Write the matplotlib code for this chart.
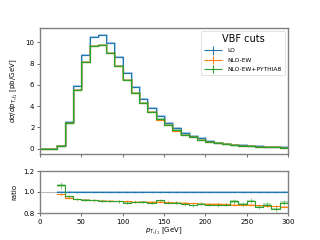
import numpy as np
import matplotlib
matplotlib.use('Agg')
import matplotlib.pyplot as plt
from matplotlib.container import ErrorbarContainer
from matplotlib.legend_handler import HandlerErrorbar

# bin edges [GeV]
BIN_EDGES = list(range(0, 310, 10))

# d sigma / d pT,j1 [pb/GeV]
LO = [0, 0, 0.25, 2.54, 5.90, 8.78, 10.53, 10.69, 9.90, 8.59, 7.14, 5.83, 4.72, 3.85, 3.05,
      2.44, 1.92, 1.45, 1.22, 0.98, 0.76, 0.58, 0.48, 0.40, 0.33, 0.28, 0.23, 0.19, 0.15, 0.12]
NLO_EW = [0, 0, 0.245, 2.40, 5.49, 8.12, 9.69, 9.80, 9.03, 7.80, 6.47, 5.28, 4.27, 3.48, 2.75,
          2.19, 1.71, 1.29, 1.08, 0.87, 0.67, 0.51, 0.42, 0.35, 0.29, 0.24, 0.20, 0.16, 0.13, 0.10]
NLO_PS = [0, 0, 0.266, 2.43, 5.50, 8.14, 9.69, 9.78, 9.04, 7.82, 6.43, 5.26, 4.28, 3.47, 2.82,
          2.19, 1.72, 1.27, 1.07, 0.86, 0.67, 0.53, 0.42, 0.37, 0.28, 0.25, 0.20, 0.17, 0.13, 0.11]

# ratio to LO (bins from 20 GeV on)
RATIO_EW = [0.977, 0.943, 0.930, 0.925, 0.920, 0.917, 0.915, 0.912, 0.910, 0.908, 0.906, 0.905,
            0.905, 0.903, 0.900, 0.897, 0.893, 0.890, 0.888, 0.885, 0.882, 0.880, 0.878, 0.875,
            0.872, 0.868, 0.862, 0.858]
RATIO_PS = [1.063, 0.958, 0.933, 0.927, 0.920, 0.915, 0.913, 0.910, 0.900, 0.903, 0.907, 0.900,
            0.922, 0.898, 0.900, 0.886, 0.873, 0.890, 0.880, 0.873, 0.880, 0.910, 0.885, 0.917,
            0.857, 0.880, 0.838, 0.900]
ERR_LO = [0.012] * 28
ERR_EW = [0.012] * 28
ERR_PS = [0.03, 0.015, 0.01, 0.01, 0.01, 0.01, 0.01, 0.01, 0.01, 0.01, 0.012, 0.012, 0.012,
          0.014, 0.014, 0.015, 0.015, 0.016, 0.017, 0.018, 0.018, 0.02, 0.02, 0.022, 0.022,
          0.024, 0.025, 0.028]

LABELS = ['LO', 'NLO-EW', 'NLO-EW+PYTHIA8']
COLORS = ['tab:blue', 'tab:orange', 'tab:green']

SPINE = '#808080'

plt.rcParams['font.size'] = 5
fig = plt.figure(figsize=(3.2, 2.4), dpi=100)
ax = fig.add_axes([0.125, 0.358, 0.775, 0.525])
axr = fig.add_axes([0.125, 0.1125, 0.775, 0.175], sharex=ax)

edges = np.array(BIN_EDGES, dtype=float)
centers = 0.5 * (edges[:-1] + edges[1:])

handles = []
for vals, col, lab in zip([LO, NLO_EW, NLO_PS], COLORS, LABELS):
    v = np.array(vals)
    ax.step(edges + 1, np.append(v, v[-1]), where='post', color=col, lw=1.4, alpha=0.35)
    ax.step(edges, np.append(v, v[-1]), where='post', color=col, lw=0.8)
    h = ax.errorbar(centers, v, xerr=5, yerr=np.zeros_like(v), fmt='none', ecolor=col,
                    elinewidth=0.8, label=lab)
    handles.append(h)

# ratio panel
rc = centers[2:]
redges = edges[2:]
axr.axhline(1.0, color='#bbbbbb', lw=0.8, zorder=0)
for vals, errs, col in zip([[1.0] * 28, RATIO_EW, RATIO_PS], [ERR_LO, ERR_EW, ERR_PS], COLORS):
    v = np.array(vals)
    e = np.array(errs)
    axr.fill_between(redges, np.append(v - e / 2, v[-1] - e[-1] / 2),
                     np.append(v + e / 2, v[-1] + e[-1] / 2),
                     step='post', color=col, alpha=0.35, lw=0)
    axr.step(redges, np.append(v, v[-1]), where='post', color=col, lw=0.8)
    axr.errorbar(rc, v, yerr=e, fmt='none', ecolor=col, elinewidth=0.6, alpha=0.6)

ax.set_xlim(0, 300)
ax.set_ylim(-0.5, 11.35)
ax.set_yticks([0, 2, 4, 6, 8, 10])
ax.tick_params(labelbottom=False)
ax.set_ylabel(r'$d\sigma/dp_{T,j_1}$ [pb/GeV]', fontsize=5)

axr.set_ylim(0.8, 1.2)
axr.set_yticks([0.8, 1.0, 1.2])
axr.set_xticks([0, 50, 100, 150, 200, 250, 300])
axr.set_ylabel('ratio', fontsize=5)
axr.set_xlabel(r'$p_{T,j_1}$ [GeV]', fontsize=5, labelpad=1)

for a in (ax, axr):
    a.tick_params(length=2.5, width=0.6, pad=1.5, labelsize=5, color='#555555')
    for s in a.spines.values():
        s.set_color(SPINE)
        s.set_linewidth(1.0)

leg = ax.legend(handles=handles, labels=LABELS, title='VBF cuts', loc='upper right',
                fontsize=4.3, title_fontsize=7, frameon=True, handlelength=3.2,
                borderpad=0.5, labelspacing=0.7, handletextpad=0.8,
                handler_map={ErrorbarContainer: HandlerErrorbar(xerr_size=1.5, yerr_size=0.7)})
leg.get_frame().set_linewidth(0.5)

fig.savefig('out.png', dpi=100)
